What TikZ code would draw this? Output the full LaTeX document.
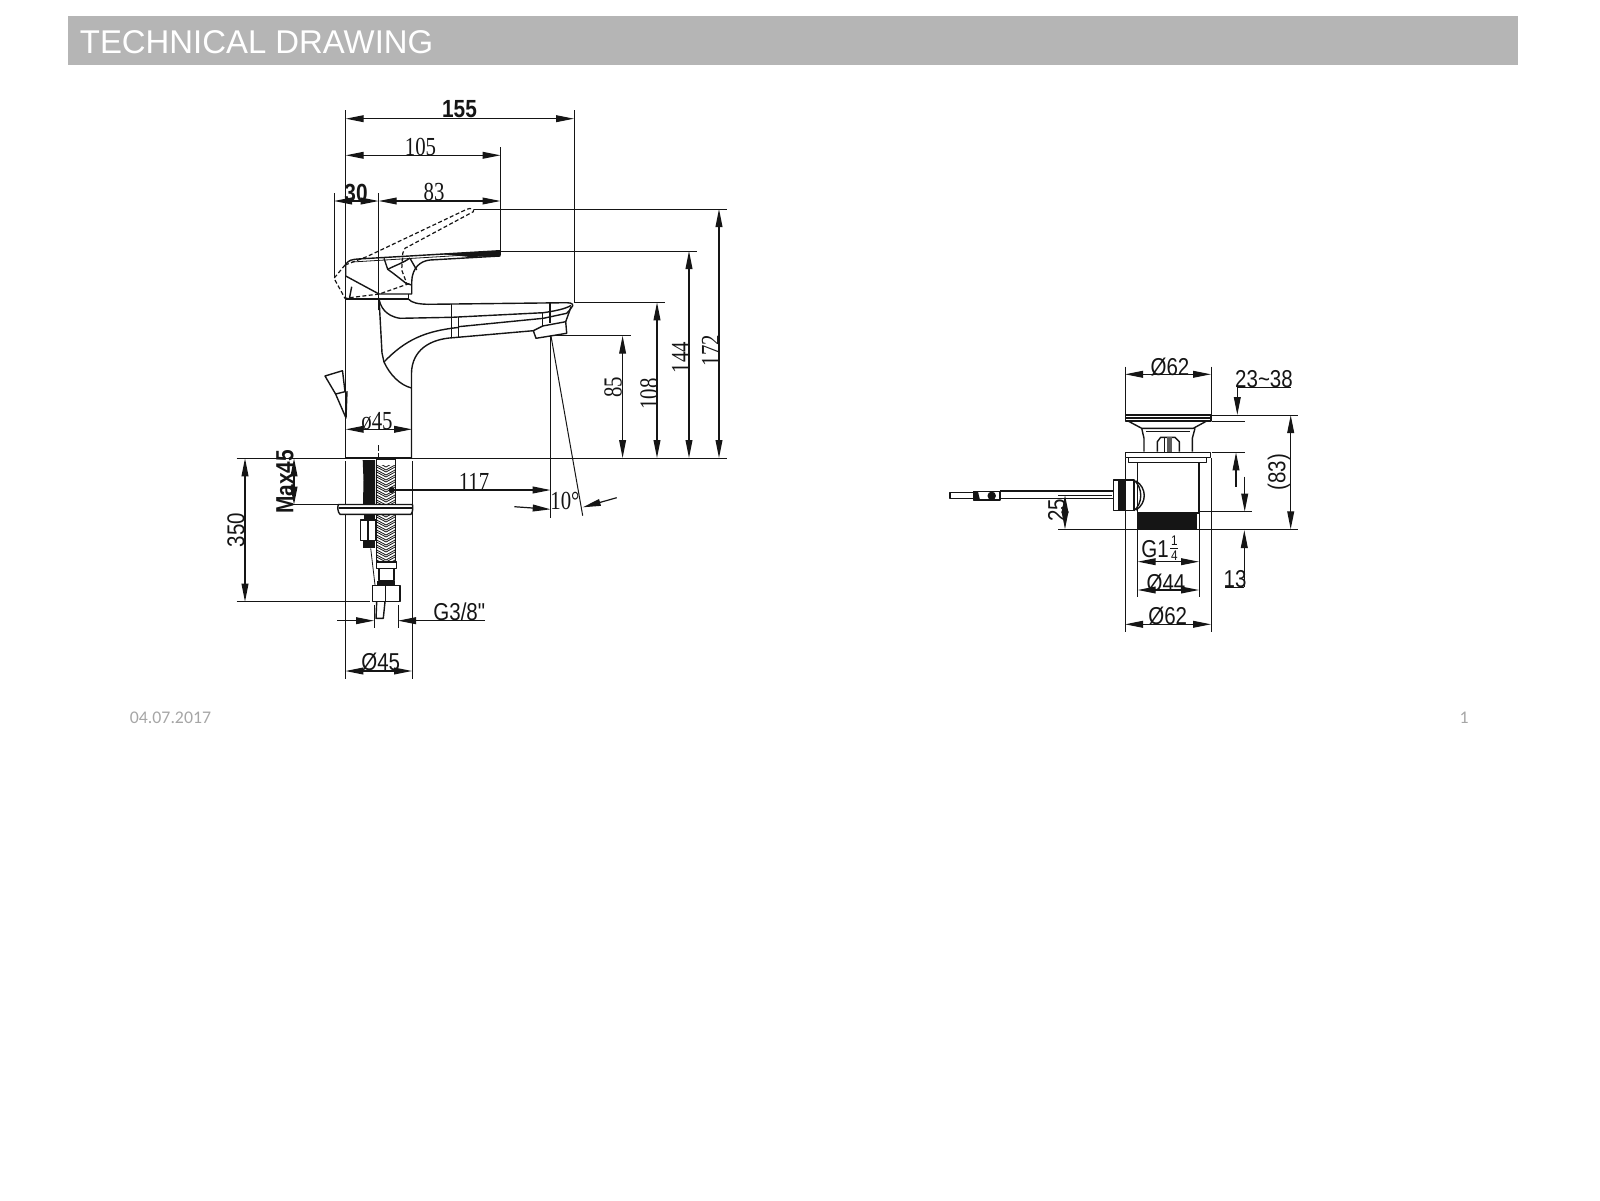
\documentclass[tikz,border=0pt]{standalone}
\usepackage{fontspec}
\usetikzlibrary{arrows.meta}
\setmainfont{Liberation Sans}
\newfontfamily\dimfont[FakeStretch=.84]{Liberation Sans}
\newfontfamily\serfont[FakeStretch=.8]{Liberation Serif}
\newfontfamily\footfont{Carlito}
\definecolor{barcol}{HTML}{B5B5B5}
\definecolor{footcol}{HTML}{A6A6A6}
\definecolor{inkcol}{HTML}{151515}
\tikzset{
	dimline/.style={draw=inkcol,line width=.6pt,{Triangle[length=9pt,width=3.4pt]}-{Triangle[length=9pt,width=3.4pt]}},
	dimend/.style={draw=inkcol,line width=.6pt,-{Triangle[length=9pt,width=3.4pt]}},
	extline/.style={draw=inkcol,line width=.5pt},
	part/.style={draw=inkcol,line width=.7pt,line join=round},
	thinpart/.style={draw=inkcol,line width=.4pt},
	dashpart/.style={draw=inkcol,line width=.6pt,dash pattern=on 2pt off 1.2pt},
	sanstxt/.style={inner sep=0pt,text=inkcol,font=\dimfont\fontsize{12.2}{12.2}\selectfont},
	sertxt/.style={inner sep=0pt,text=inkcol,font=\serfont\fontsize{13}{13}\selectfont},
	fractxt/.style={inner sep=0pt,text=inkcol,font=\dimfont\fontsize{7}{7}\selectfont}
}
\begin{document}
\begin{tikzpicture}[x=.5pt,y=-.5pt]
	\useasboundingbox (0,0) rectangle (1600,1200);
	% header and footer
	\fill[barcol] (68,16) rectangle (1518,65);
	\node[inner sep=0pt,anchor=west,text=white,font=\fontsize{16.45}{16.45}\selectfont] (title) at (79.5,42.5) {TECHNICAL DRAWING};
	\node[inner sep=0pt,text=footcol,font=\footfont\fontsize{8.9}{8.9}\selectfont] (date) at (170.5,718) {04.07.2017};
	\node[inner sep=0pt,text=footcol,font=\footfont\fontsize{8.9}{8.9}\selectfont] (page) at (1464,718) {1};
	% tap: extension lines
	\draw[extline] (334,193) -- (334,278);
	\draw[extline] (345.7,110) -- (345.7,458);
	\draw[extline] (378.7,193) -- (378.7,310);
	\draw[extline] (500.5,147) -- (500.5,255);
	\draw[extline] (574,110) -- (574,302);
	\draw[extline] (473.6,209) -- (727,209);
	\draw[extline] (500,251) -- (697,251);
	\draw[extline] (574,302.3) -- (665,302.3);
	\draw[extline] (551,335.7) -- (630.6,335.7);
	\draw[extline] (236.7,458.3) -- (727,458.3);
	\draw[extline] (345.3,461) -- (345.3,679);
	\draw[extline] (412,461) -- (412,679);
	\draw[extline] (236.7,601.7) -- (370,601.7);
	\draw[extline] (293,504.7) -- (345,504.7);
	\draw[extline] (374,605) -- (374,628);
	\draw[extline] (398,605) -- (398,628);
	\draw[extline] (550.7,335.7) -- (550.7,518.3);
	\draw[extline] (551,336) -- (582.7,515.7);
	% tap: lever
	\draw[part] (345.7,264) .. controls (349,260) and (352,259.5) .. (358,259) -- (500,250.7) -- (500,256) -- (430,260) .. controls (420,261) and (412,268) .. (411.7,282) -- (411.7,294) -- (379,294) -- (345.7,276) -- cycle;
	\fill[inkcol] (440,254) -- (500,250.7) -- (500,256) -- (470,257) -- cycle;
	\draw[thinpart] (352,262) -- (500,253);
	\draw[part] (384,258.3) -- (387.7,269.3) .. controls (393,273) and (398,277) .. (406,283.3) -- (411.7,285);
	\draw[part] (387.7,269.3) .. controls (396,265) and (403,263) .. (410,258);
	\draw[part] (410,258.3) -- (416.7,270);
	\draw[part] (351.7,286.7) -- (349.3,299);
	\draw[dashpart] (345,265) -- (334,278.3) -- (345,298.3) -- (379.3,294) -- (410,283.3);
	\draw[dashpart] (345,265) -- (366.7,256.7) -- (466.7,209.3) .. controls (471,207.5) and (475,209) .. (473.3,211.7) -- (405,248.3) -- (402.7,253.3) -- (401.7,270) -- (406.7,283.3);
	% tap: body and spout
	\draw[part] (345.7,299) -- (408.3,299) -- (408.3,294);
	\draw[part] (408.3,299) .. controls (412,303) and (418,304) .. (428,304.3) -- (566.7,302.7) .. controls (573,302.7) and (574,305) .. (571.5,307.5) .. controls (570,310) and (568,312) .. (566.7,313.3) -- (543.3,318.3) -- (458.3,326.7);
	\draw[part] (379,298.3) .. controls (380,306) and (385,316) .. (400,318.3) -- (451.7,317.3) -- (543.3,312.7) .. controls (555,311) and (565,309) .. (571,305.5);
	\draw[part] (451.7,303.5) -- (451.7,337.7);
	\draw[part] (458.3,316.5) -- (458.3,337.3);
	\draw[part] (550,302.7) -- (550,323.3);
	\draw[part] (542.7,313) -- (542.7,326);
	\draw[part] (411.5,458) -- (411.5,373) .. controls (412,350) and (430,339) .. (453,337.7) -- (533.3,330.7);
	\draw[part] (384,362) .. controls (405,340) and (425,331) .. (458,327.5);
	\draw[part] (379,298) -- (382,353) -- (384,362) .. controls (390,375) and (400,385) .. (411.5,388);
	\draw[part] (533.3,330.7) -- (536,338.3) -- (566.7,333.3) -- (565.7,321.7) -- (542.7,326) -- cycle;
	\draw[part] (565.7,321.7) -- (571,307);
	\draw[line width=1.1pt,draw=inkcol] (345.7,458) -- (412,458);
	% tap: drain knob
	\draw[part] (325,376) -- (342.5,370.7) -- (345,391.7) -- (335.6,394) -- cycle;
	\draw[part] (335.6,394) -- (346,418) -- (347,391);
	% tap: parts below the base
	\draw[thinpart,dash pattern=on 3pt off 1pt] (378.7,445) -- (378.7,458);
	\fill[inkcol] (362.7,460) -- (375,460) -- (375,504) -- (363,504) -- (363.5,480) -- cycle;
	\draw[thinpart] (376.7,459.5) rectangle (395,562);
	\begin{scope}
		\clip (376.7,465.7) rectangle (395,562);
		\foreach \hy in {462,467,...,562}{
			\draw[line width=.4pt,draw=inkcol] (376.7,\hy) -- (386,\hy+5) -- (395,\hy);
			\draw[line width=.4pt,draw=inkcol] (376.7,\hy+3) -- (386,\hy+8) -- (395,\hy+3);
		}
	\end{scope}
	\draw[part,fill=white] (338.3,504.5) .. controls (337.5,507) and (337.5,512) .. (340,514.3) -- (411,514.3) .. controls (413,512) and (413,507) .. (412.5,504.5) -- cycle;
	\draw[line width=1pt,draw=inkcol] (339,507.5) -- (412,507.5);
	\draw[part] (360.7,520) rectangle (376,540.7);
	\draw[part] (368,520) -- (368,540.7);
	\fill[inkcol] (363.5,514.3) rectangle (375,520);
	\fill[inkcol] (362.7,541) rectangle (375,548.3);
	\draw[thinpart] (370.7,548.3) -- (375,585);
	\draw[part] (376.7,561.7) rectangle (396.7,568.3);
	\draw[part] (379,568.3) rectangle (394,580.7);
	\fill[inkcol] (376.7,580.7) rectangle (395,585);
	\draw[part] (372.7,585.7) rectangle (400,601.7);
	\draw[part] (385.7,585.7) -- (385.7,601.7);
	\draw[part] (376.7,601.7) -- (376,618.3) -- (383.3,618.3) -- (385,601.7);
	% tap: dimensions
	\draw[dimline] (345.7,118.7) -- (574,118.7);
	\draw[dimline] (345.7,155.3) -- (500.5,155.3);
	\draw[dimline] (334,201) -- (378.7,201);
	\draw[dimline] (378.7,201) -- (500.5,201);
	\draw[dimline] (622.6,335.7) -- (622.6,458);
	\draw[dimline] (657,302.3) -- (657,458);
	\draw[dimline] (689,251) -- (689,458);
	\draw[dimline] (719,209) -- (719,458);
	\draw[dimline] (345.7,429.3) -- (412,429.3);
	\draw[dimline] (294,458.3) -- (294,504.7);
	\draw[dimline] (245,458.3) -- (245,601.7);
	\draw[dimline] (345.3,671) -- (412,671);
	\draw[dimend] (391.7,490) -- (550.7,490);
	\fill[inkcol] (391.7,490) circle (3);
	\draw[dimend] (337.3,620.7) -- (374,620.7);
	\draw[dimend] (485,620.7) -- (398,620.7);
	\draw[dimend] (514.3,506.7) -- (550.7,509.3);
	\draw[dimend] (616.7,497.7) -- (582.7,507.3);
	\node[sanstxt,font=\dimfont\bfseries\fontsize{12.4}{12.4}\selectfont] (d155) at (459.5,109) {155};
	\node[sertxt] (d105) at (420.5,147) {105};
	\node[sanstxt,font=\dimfont\bfseries\fontsize{12.4}{12.4}\selectfont] (d30) at (356,193) {30};
	\node[sertxt] (d83) at (434,192) {83};
	\node[sertxt,rotate=90] (d85) at (613,387) {85};
	\node[sertxt,rotate=90] (d108) at (649,394) {108};
	\node[sertxt,rotate=90] (d144) at (680.6,357.5) {144};
	\node[sertxt,rotate=90] (d172) at (710.6,350.5) {172};
	\node[sertxt] (dn45) at (377,421.7) {ø45};
	\node[sertxt] (d117) at (474,481.7) {117};
	\node[sertxt] (d10) at (565,500.5) {10°};
	\node[sanstxt,rotate=90,font=\dimfont\bfseries\fontsize{12.4}{12.4}\selectfont] (dmax) at (285,481.7) {Max45};
	\node[sanstxt,rotate=90] (d350) at (236,530) {350};
	\node[sanstxt] (dg38) at (459.3,612) {G3/8"};
	\node[sanstxt] (dd45) at (380.7,662) {Ø45};
	% waste: extension lines
	\draw[extline] (1125,366.7) -- (1125,415);
	\draw[extline] (1211,366.7) -- (1211,415);
	\draw[extline] (1125,458) -- (1125,632.3);
	\draw[extline] (1211,458) -- (1211,632.3);
	\draw[extline] (1137.7,462.3) -- (1137.7,596.7);
	\draw[extline] (1199,462.3) -- (1199,596.7);
	\draw[extline] (1211.7,415) -- (1298.3,415);
	\draw[extline] (1211.7,421) -- (1245,421);
	\draw[extline] (1211.7,452.3) -- (1245,452.3);
	\draw[extline] (1199.3,511.7) -- (1251.7,511.7);
	\draw[extline] (1058.3,529.3) -- (1298.3,529.3);
	\draw[extline] (1058.3,495) -- (1111.7,495);
	\draw[extline] (1236.7,387.3) -- (1290.7,387.3);
	\draw[extline] (1225,587.3) -- (1244.3,587.3);
	% waste: plug and body
	\draw[part] (1125.5,415) rectangle (1211,421);
	\draw[line width=.8pt,draw=inkcol] (1126,418) -- (1210,418);
	\draw[part] (1128,421) -- (1141.7,428.3) -- (1193.3,428.3) -- (1206.7,421);
	\draw[part] (1141.7,428.3) -- (1144,438.3) -- (1144,451.7);
	\draw[part] (1195,428.3) -- (1192.3,438.3) -- (1192.3,451.7);
	\draw[thinpart] (1146,431.5) -- (1190,431.5);
	\draw[part] (1157.3,451.7) -- (1157.3,441.7) -- (1160.7,437.3) -- (1175,437.3) -- (1179.3,441.7) -- (1179.3,451.7);
	\draw[thinpart] (1164,437.3) -- (1164,451.7);
	\fill[inkcol!70] (1167,437.3) rectangle (1172,451.7);
	\draw[part] (1125.5,452.3) rectangle (1210.7,457.3);
	\draw[part] (1128.3,457.3) rectangle (1206.7,462.3);
	\draw[part] (1137.7,462.3) -- (1137.7,513) -- (1199,513) -- (1199,462.3);
	\fill[inkcol] (1138.3,513.3) rectangle (1196.7,529.3);
	% waste: pull rod
	\draw[part] (950,492.3) rectangle (973.3,498.3);
	\draw[part] (973.3,491.7) rectangle (1000,500);
	\fill[inkcol] (973.3,491.7) -- (978,491.7) -- (980,500) -- (973.3,500) -- cycle;
	\draw[part,fill=inkcol] (991.7,495.8) circle (3.5);
	\draw[part] (1000,491) -- (1113.3,491);
	\draw[part] (1000,498.3) -- (1113.3,498.3);
	\draw[part] (1113.3,480) rectangle (1134,510.7);
	\fill[inkcol] (1118,480) rectangle (1125,510.7);
	\draw[part] (1134,480) .. controls (1143,488) and (1143,503) .. (1134,510.7);
	\draw[part] (1136,481) .. controls (1147,488) and (1147,503) .. (1136,510);
	% waste: dimensions
	\draw[dimline] (1125,374.3) -- (1211,374.3);
	\draw[dimend] (1237.3,387.3) -- (1237.3,415);
	\draw[dimline] (1290.7,415) -- (1290.7,529.3);
	\draw[dimend] (1236,486.7) -- (1236,452.3);
	\draw[dimend] (1244.7,476.7) -- (1244.7,511.7);
	\draw[dimend] (1244.3,587.3) -- (1244.3,530);
	\draw[dimline] (1065,495) -- (1065,529.3);
	\draw[dimline] (1137.7,561.7) -- (1199,561.7);
	\draw[dimline] (1137.7,590) -- (1199,590);
	\draw[dimline] (1125,624.3) -- (1211,624.3);
	\node[sanstxt] (w62a) at (1170,366.7) {Ø62};
	\node[sanstxt] (w2338) at (1264,379) {23\textasciitilde 38};
	\node[sanstxt,rotate=90] (w83) at (1279,472) {(83)};
	\node[sanstxt,rotate=90] (w25) at (1056.7,510) {25};
	\node[sanstxt] (wg) at (1155,549) {G1};
	\node[fractxt] (wnum) at (1174.3,541) {1};
	\node[fractxt] (wden) at (1174.3,556) {4};
	\draw[thinpart] (1170,548.3) -- (1178.3,548.3);
	\node[sanstxt] (w44) at (1166,583) {Ø44};
	\node[sanstxt] (w62b) at (1167.7,616.5) {Ø62};
	\node[sanstxt] (w13) at (1235,579) {13};
\end{tikzpicture}
\end{document}
